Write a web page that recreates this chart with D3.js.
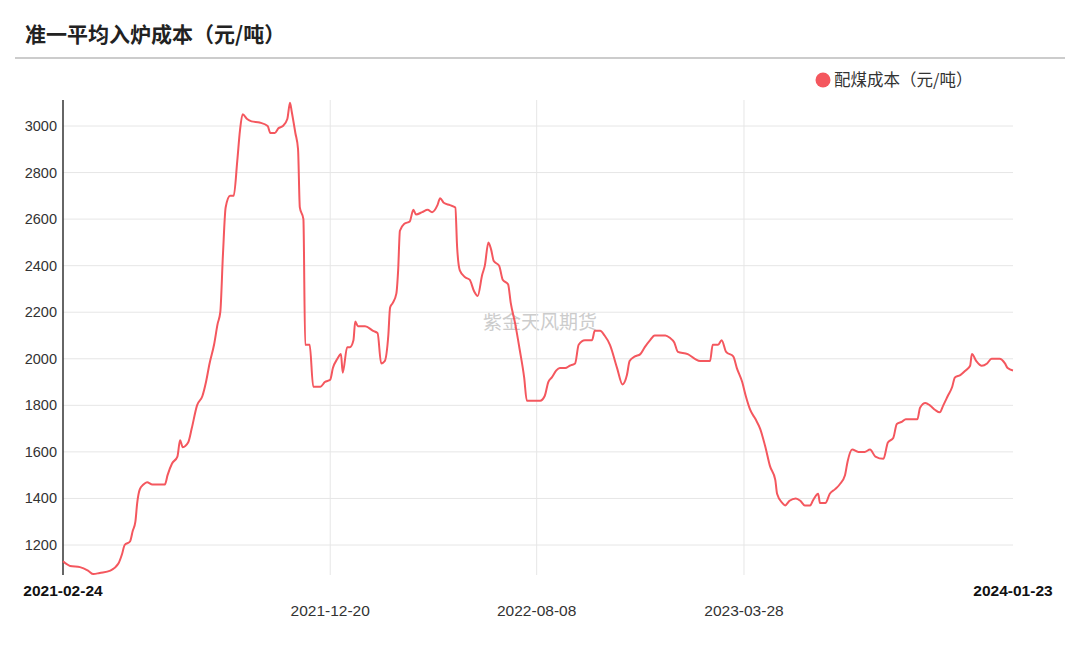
<!DOCTYPE html>
<html><head><meta charset="utf-8">
<script src="https://cdn.jsdelivr.net/npm/d3@7"></script>
<style>body{margin:0;background:#fff;font-family:"Noto Sans CJK SC","Noto Sans",sans-serif}</style>
</head><body>
<svg id="c" width="1080" height="661"></svg>
<script>
const startDate = "2021-02-24";
const endDate = "2024-01-23";
const dayOffsets = [0,8,19,28,34,41,53,62,66,69,75,78,81,83,86,90,94,100,109,114,117,122,128,131,134,140,144,150,156,160,164,169,173,176,179,182,187,191,195,198,201,206,211,220,229,232,237,241,246,251,254,256,260,263,265,269,271,276,280,288,293,299,302,307,311,313,318,321,325,327,330,338,347,352,356,360,364,366,369,373,375,377,382,388,392,395,402,408,413,419,422,426,433,439,441,444,450,455,460,464,469,472,476,479,482,488,492,498,501,506,511,516,519,526,534,539,543,547,552,556,562,567,573,577,584,592,595,601,606,612,620,626,631,634,640,646,651,657,662,674,679,684,688,699,707,713,724,727,733,737,742,750,754,760,764,769,775,780,786,791,797,799,805,808,813,820,825,830,836,839,845,847,853,858,864,869,875,878,883,890,897,903,909,918,923,929,933,939,943,956,959,965,970,976,981,985,990,995,998,1004,1010,1015,1017,1022,1028,1034,1039,1048,1054,1057,1063];
const costValues = [1130,1110,1105,1090,1075,1080,1090,1120,1160,1200,1215,1260,1300,1380,1440,1460,1470,1460,1460,1460,1500,1550,1580,1650,1620,1640,1700,1800,1840,1900,1980,2060,2150,2200,2450,2650,2700,2700,2850,2980,3050,3030,3020,3015,3000,2970,2970,2990,3000,3030,3100,3060,2970,2900,2650,2600,2060,2060,1880,1880,1900,1910,1960,2000,2020,1940,2050,2050,2080,2160,2140,2140,2120,2110,1980,1990,2100,2220,2240,2280,2380,2550,2580,2590,2640,2620,2630,2640,2630,2660,2690,2670,2660,2650,2480,2380,2350,2340,2290,2270,2360,2400,2500,2470,2420,2400,2340,2320,2240,2150,2040,1920,1820,1820,1820,1840,1900,1920,1950,1960,1960,1970,1980,2060,2080,2080,2120,2120,2100,2060,1960,1890,1930,1990,2010,2020,2050,2080,2100,2100,2090,2070,2030,2020,2000,1990,1990,2060,2060,2080,2030,2010,1960,1900,1840,1780,1740,1700,1620,1540,1480,1420,1380,1370,1390,1400,1390,1370,1370,1390,1420,1380,1380,1420,1440,1460,1500,1560,1610,1600,1600,1610,1580,1570,1640,1660,1720,1730,1740,1740,1790,1810,1800,1780,1770,1800,1840,1880,1920,1930,1950,1970,2020,1990,1970,1980,2000,2000,1980,1960,1950];
const yTicks = [1200,1400,1600,1800,2000,2200,2400,2600,2800,3000];
const xTickLabels = ["2021-02-24","2021-12-20","2022-08-08","2023-03-28","2024-01-23"];
const title = "准一平均入炉成本（元/吨）";
const seriesName = "配煤成本（元/吨）";

const p = d3.timeParse("%Y-%m-%d");
const s0 = p(startDate);
const data = dayOffsets.map((d,i)=>({date:d3.timeDay.offset(s0,d), v:costValues[i]}));
const svg = d3.select("#c");
const L=63,R=1013,T=100,B=575;
const x = d3.scaleTime().domain([s0,p(endDate)]).range([L,R]);
const y = d3.scaleLinear().domain([1200,3000]).range([545,126]);

svg.append("text").attr("x",25).attr("y",42).attr("font-size",21).attr("font-weight","bold").attr("fill","#222").text(title);
svg.append("line").attr("x1",15).attr("x2",1065).attr("y1",58).attr("y2",58).attr("stroke","#bbb").attr("stroke-width",1.5);

svg.append("circle").attr("cx",823).attr("cy",80).attr("r",7.5).attr("fill","#f4575e");
svg.append("text").attr("x",834).attr("y",86).attr("font-size",16.5).attr("fill","#333").text(seriesName);

svg.append("text").attr("x",540).attr("y",329).attr("text-anchor","middle").attr("font-size",19).attr("fill","#ccc").text("紫金天风期货");

const g = svg.append("g");
g.selectAll(".hg").data(yTicks).join("line").attr("x1",L).attr("x2",R).attr("y1",d=>y(d)).attr("y2",d=>y(d)).attr("stroke","#e6e6e6");
g.selectAll(".vg").data(xTickLabels.slice(1,4)).join("line").attr("x1",d=>x(p(d))).attr("x2",d=>x(p(d))).attr("y1",T).attr("y2",B).attr("stroke","#e6e6e6");
g.selectAll(".yl").data(yTicks).join("text").attr("x",L-6).attr("y",d=>y(d)+5).attr("text-anchor","end").attr("font-size",14.5).attr("fill","#333").attr("font-family","Liberation Sans, Arial").text(d=>d);
g.selectAll(".xl").data(xTickLabels).join("text")
 .attr("x",d=>x(p(d))).attr("y",(d,i)=>(i===0||i===4)?596:616)
 .attr("text-anchor","middle").attr("font-size",15.5).attr("font-family","Liberation Sans, Arial")
 .attr("font-weight",(d,i)=>(i===0||i===4)?"bold":"normal").attr("fill",(d,i)=>(i===0||i===4)?"#111":"#333").text(d=>d);
g.append("line").attr("x1",L).attr("x2",L).attr("y1",T).attr("y2",B).attr("stroke","#333").attr("stroke-width",1.5);

const line = d3.line().x(d=>x(d.date)).y(d=>y(d.v)).curve(d3.curveMonotoneX);
g.append("path").datum(data).attr("d",line).attr("fill","none").attr("stroke","#f4575e").attr("stroke-width",2);
</script></body></html>
